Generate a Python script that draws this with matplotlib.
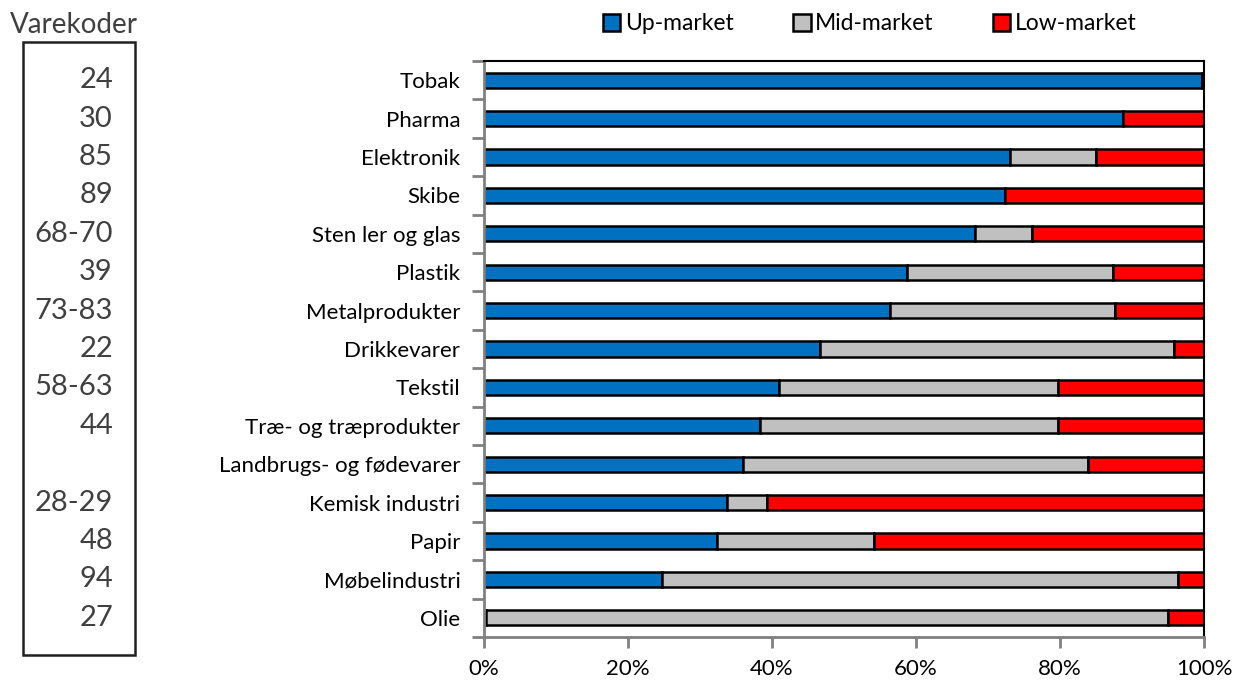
import numpy as np
import matplotlib
matplotlib.use("Agg")
import matplotlib.pyplot as plt
from matplotlib.patches import Rectangle, Patch
from matplotlib.transforms import blended_transform_factory

plt.rcParams['font.family'] = ['Lato', 'DejaVu Sans']

# data (top to bottom)
categories = ["Tobak", "Pharma", "Elektronik", "Skibe", "Sten ler og glas", "Plastik",
              "Metalprodukter", "Drikkevarer", "Tekstil", "Træ- og træprodukter",
              "Landbrugs- og fødevarer", "Kemisk industri", "Papir", "Møbelindustri", "Olie"]
codes = ["24", "30", "85", "89", "68-70", "39", "73-83", "22", "58-63", "44",
         "", "28-29", "48", "94", "27"]
up_market = [99.7, 88.8, 73.1, 72.4, 68.2, 58.8, 56.4, 46.7, 41.0, 38.3, 36.0, 33.8, 32.4, 24.7, 0.3]
mid_market = [0.0, 0.0, 11.9, 0.0, 7.9, 28.6, 31.2, 49.1, 38.7, 41.4, 47.9, 5.5, 21.8, 71.7, 94.7]
low_market = [100 - u - m for u, m in zip(up_market, mid_market)]

c_up = '#0070c0'
c_mid = '#c0c0c0'
c_low = '#ff0000'

fig = plt.figure(figsize=(12.37, 6.81), dpi=100)
ax = fig.add_axes([484 / 1237, 44 / 681, 720 / 1237, 576 / 681])

y = np.arange(len(categories))
h = 0.4
ax.barh(y, up_market, height=h, color=c_up, edgecolor='black', linewidth=1.8)
ax.barh(y, mid_market, left=up_market, height=h, color=c_mid, edgecolor='black', linewidth=1.8)
left_low = [u + m for u, m in zip(up_market, mid_market)]
ax.barh(y, low_market, left=left_low, height=h, color=c_low, edgecolor='black', linewidth=1.8)

ax.set_xlim(0, 100)
ax.set_ylim(len(categories) - 0.5, -0.5)
ax.set_xticks(np.arange(0, 101, 20))
ax.set_xticklabels([f"{v}%" for v in range(0, 101, 20)], fontsize=16)
ax.set_yticks(y)
ax.set_yticklabels(categories, fontsize=16)
ax.tick_params(axis='y', length=0, pad=17)
ax.tick_params(axis='x', length=8, width=2, color='#808080', pad=8)
# category boundary ticks
ax.set_yticks(np.arange(-0.5, len(categories)), minor=True)
ax.tick_params(axis='y', which='minor', length=9, width=2, color='#808080')

for s in ['left', 'bottom']:
    ax.spines[s].set_color('#808080')
    ax.spines[s].set_linewidth(2)
for s in ['top', 'right']:
    ax.spines[s].set_color('black')
    ax.spines[s].set_linewidth(1.5)

handles = [Patch(facecolor=c_up, edgecolor='black', linewidth=1.8, label='Up-market'),
           Patch(facecolor=c_mid, edgecolor='black', linewidth=1.8, label='Mid-market'),
           Patch(facecolor=c_low, edgecolor='black', linewidth=1.8, label='Low-market')]
fig.legend(handles=handles, loc='center', bbox_to_anchor=(870 / 1237, 1 - 24 / 681), ncol=3,
           frameon=False, fontsize=16.5, handlelength=0.75, handleheight=0.75,
           handletextpad=0.2, columnspacing=2.6)

# Varekoder column
fig.text(74 / 1237, 1 - 25 / 681, "Varekoder", fontsize=20, color='#404040',
         ha='center', va='center')
fig.add_artist(Rectangle((23 / 1237, 1 - 655 / 681), 112 / 1237, 613 / 681,
                         transform=fig.transFigure, fill=False, edgecolor='#202020', linewidth=1.8))
tr = blended_transform_factory(fig.transFigure, ax.transData)
for yi, code in zip(y, codes):
    ax.text(113 / 1237, yi, code, transform=tr, ha='right', va='center',
            fontsize=21, color='#404040', clip_on=False)

fig.savefig("out.png", dpi=100, facecolor='white')
